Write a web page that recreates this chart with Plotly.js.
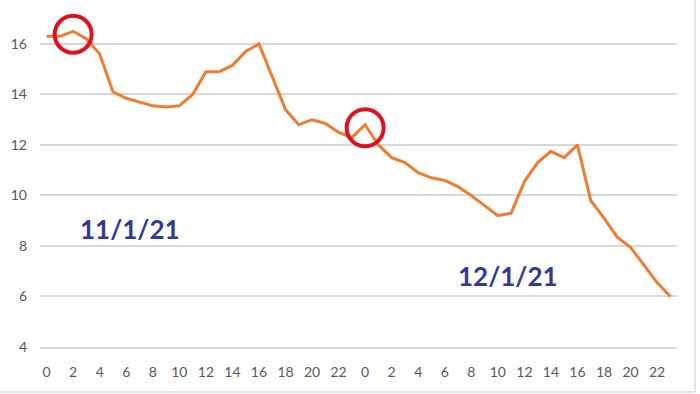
<!DOCTYPE html>
<html>
<head>
<meta charset="utf-8">
<script src="https://cdn.plot.ly/plotly-3.0.1.min.js"></script>
<style>html,body{margin:0;padding:0;background:#fff;}#chart{width:700px;height:394px;}</style>
</head>
<body>
<div id="chart"></div>
<script>
// Hour-of-day labels for two consecutive days
const hours = [0,1,2,3,4,5,6,7,8,9,10,11,12,13,14,15,16,17,18,19,20,21,22,23,
               0,1,2,3,4,5,6,7,8,9,10,11,12,13,14,15,16,17,18,19,20,21,22,23];
// Series values
const values = [16.3,16.3,16.5,16.2,15.6,14.1,13.85,13.7,13.55,13.5,13.55,14.0,
                14.9,14.9,15.15,15.7,16.0,14.7,13.4,12.8,13.0,12.85,12.5,12.3,
                12.8,12.0,11.5,11.3,10.9,10.7,10.6,10.35,10.0,9.6,9.2,9.3,
                10.55,11.3,11.75,11.5,12.0,9.8,9.1,8.35,7.95,7.25,6.55,6.0];
// Highlighted (circled) points, by index
const highlightIdx = [2, 24];
// Date labels
const dateLabels = ['11/1/21', '12/1/21'];
const yTicks = [4,6,8,10,12,14,16];

const xIdx = values.map((v,i)=>i);
const tickIdx = xIdx.filter(i => i % 2 === 0);
const tickText = tickIdx.map(i => String(hours[i]));

const traces = [
  {x: xIdx, y: values, type: 'scatter', mode: 'lines',
   line: {color: '#ED7D31', width: 3}, hoverinfo: 'skip'},
  {x: highlightIdx, y: highlightIdx.map(i => values[i] - 0.12), type: 'scatter', mode: 'markers',
   marker: {symbol: 'circle-open', size: 37, color: '#E0101C', line: {width: 4, color: '#E0101C'}},
   hoverinfo: 'skip'}
];

const layout = {
  width: 700, height: 394,
  margin: {l: 40, r: 23, t: 0, b: 47},
  paper_bgcolor: '#fff', plot_bgcolor: '#fff',
  showlegend: false,
  font: {family: 'Lato, "Open Sans", sans-serif', color: '#595959', size: 14},
  xaxis: {range: [-0.5, 47.5], tickvals: tickIdx, ticktext: tickText,
          showgrid: false, zeroline: false, showline: true, linecolor: '#d9d9d9', linewidth: 2, ticks: '',
          tickfont: {size: 14, color: '#595959'}, ticklabelstandoff: 11, fixedrange: true},
  yaxis: {range: [4, 17.74], tickvals: yTicks, showgrid: true, gridcolor: '#d9d9d9', gridwidth: 2,
          zeroline: false, showline: false, ticks: '',
          tickfont: {size: 14, color: '#595959'}, ticklabelstandoff: 12, fixedrange: true},
  annotations: [
    {x: 6.3, y: 8.67, xref: 'x', yref: 'y', text: '<b>' + dateLabels[0] + '</b>', showarrow: false,
     font: {size: 26, color: '#30399A', family: 'Lato, "Open Sans", sans-serif'}},
    {x: 34.8, y: 6.8, xref: 'x', yref: 'y', text: '<b>' + dateLabels[1] + '</b>', showarrow: false,
     font: {size: 26, color: '#30399A', family: 'Lato, "Open Sans", sans-serif'}}
  ],
  shapes: [
    {type: 'line', xref: 'paper', yref: 'paper', x0: 1.028, x1: 1.028, y0: -0.13, y1: 1.0,
     line: {color: '#e3e3e3', width: 2}},
    {type: 'line', xref: 'paper', yref: 'paper', x0: -0.07, x1: 1.028, y0: -0.13, y1: -0.13,
     line: {color: '#e3e3e3', width: 2}}
  ]
};

Plotly.newPlot('chart', traces, layout, {staticPlot: true, displayModeBar: false});
</script>
</body>
</html>
